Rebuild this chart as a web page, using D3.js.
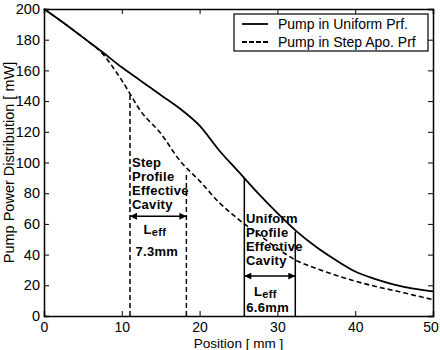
<!DOCTYPE html>
<html lang="en">
<head>
    <meta charset="UTF-8">
    <title>Pump Power Distribution</title>
    <script src="https://d3js.org/d3.v7.min.js"></script>
    <style>
        body {
            margin: 0;
            background: #fff;
        }
        svg text {
            font-family: "Liberation Sans", Arial, sans-serif;
            fill: #000;
        }
        .tick-label {
            font-size: 14.5px;
        }
        .note {
            font-size: 13px;
            font-weight: bold;
            letter-spacing: 0.3px;
        }
    </style>
</head>
<body>
    <div id="chart"></div>

    <script>
        // datos
        var positions = [0, 2.5, 5, 7.5, 10, 12.5, 15, 17.5, 20, 22.5, 25, 27.5, 30, 32.5, 35, 37.5, 40, 42.5, 45, 47.5, 50];
        var pumpUniform = [200, 191, 181.5, 172, 162, 153, 144, 135, 124, 108, 94, 80, 67, 55, 45, 36.5, 29, 24.2, 20.5, 17.8, 16];
        var pumpStep = [200, 191, 181.5, 171, 153.5, 133, 119, 101, 88, 74, 63, 53.5, 44, 36, 31, 26.6, 22.7, 19.4, 16.6, 13.6, 10.7];

        var xTicks = [0, 10, 20, 30, 40, 50];
        var yTicks = [0, 20, 40, 60, 80, 100, 120, 140, 160, 180, 200];

        var seriesNames = ["Pump in Uniform Prf.", "Pump in Step Apo. Prf"];

        // cavidades efectivas
        var stepCavity = { x0: 11.05, x1: 18.3, top0: 146, top1: 94, arrowY: 65, label: "7.3mm" };
        var uniformCavity = { x0: 25.75, x1: 32.3, top0: 90, top1: 55, arrowY: 26, label: "6.6mm" };
        var stepText = ["Step", "Profile", "Effective", "Cavity"];
        var uniformText = ["Uniform", "Profile", "Effective", "Cavity"];

        var width = 440;
        var height = 350;
        var margin = { top: 9, right: 7, bottom: 34, left: 44 };

        var svg = d3.select("#chart")
            .append("svg")
            .attr("width", width)
            .attr("height", height);

        var x = d3.scaleLinear()
            .domain([0, 50])
            .range([margin.left, width - margin.right]);

        var y = d3.scaleLinear()
            .domain([0, 200])
            .range([height - margin.bottom, margin.top]);

        // marcador de flecha
        var defs = svg.append("defs");
        defs.append("marker")
            .attr("id", "arrow")
            .attr("viewBox", "0 0 10 10")
            .attr("refX", 10)
            .attr("refY", 5)
            .attr("markerWidth", 8)
            .attr("markerHeight", 7)
            .attr("markerUnits", "userSpaceOnUse")
            .attr("orient", "auto-start-reverse")
            .append("path")
            .attr("d", "M0,0 L10,5 L0,10 z")
            .attr("fill", "#000");

        // ejes con marcas hacia adentro
        svg.append("g")
            .attr("transform", `translate(0,${y(0)})`)
            .call(d3.axisBottom(x).tickValues(xTicks).tickSize(-5).tickPadding(6))
            .call(g => g.selectAll("text").attr("class", "tick-label").attr("font-family", null).attr("font-size", null).style("font-size", "14px"))
            .call(g => g.selectAll("text").filter(d => d === 50).attr("dx", -2.5));

        svg.append("g")
            .attr("transform", `translate(0,${y(200)})`)
            .call(d3.axisTop(x).tickValues(xTicks).tickSize(-5).tickFormat(""));

        svg.append("g")
            .attr("transform", `translate(${x(0)},0)`)
            .call(d3.axisLeft(y).tickValues(yTicks).tickSize(-5).tickPadding(4))
            .call(g => g.selectAll("text").attr("class", "tick-label").attr("font-family", null).attr("font-size", null));

        svg.append("g")
            .attr("transform", `translate(${x(50)},0)`)
            .call(d3.axisRight(y).tickValues(yTicks).tickSize(-5).tickFormat(""));

        svg.selectAll(".domain").attr("stroke", "#000").attr("stroke-width", 1.5);
        svg.selectAll(".tick line").attr("stroke", "#000").attr("stroke-width", 1);

        // etiquetas de ejes
        svg.append("text")
            .attr("x", (x(0) + x(50)) / 2)
            .attr("y", 347.5)
            .attr("text-anchor", "middle")
            .style("font-size", "13.5px")
            .text("Position [ mm ]");

        svg.append("text")
            .attr("transform", `translate(9,${(y(0) + y(200)) / 2}) rotate(-90)`)
            .attr("text-anchor", "middle")
            .attr("dominant-baseline", "central")
            .style("font-size", "14.5px")
            .text("Pump Power Distribution [ mW]");

        // curvas
        var line = d3.line()
            .x(function(d) { return x(d[0]); })
            .y(function(d) { return y(d[1]); })
            .curve(d3.curveMonotoneX);

        svg.append("path")
            .datum(positions.map(function(p, i) { return [p, pumpUniform[i]]; }))
            .attr("fill", "none")
            .attr("stroke", "#000")
            .attr("stroke-width", 1.8)
            .attr("d", line);

        svg.append("path")
            .datum(positions.map(function(p, i) { return [p, pumpStep[i]]; }))
            .attr("fill", "none")
            .attr("stroke", "#000")
            .attr("stroke-width", 1.6)
            .attr("stroke-dasharray", "5,3")
            .attr("d", line);

        // lineas verticales y flechas de cada cavidad
        function drawCavity(c, dashed, textLines, textX, textY0, lX, lY, mmX, mmY) {
            [[c.x0, c.top0], [c.x1, c.top1]].forEach(function(v) {
                svg.append("line")
                    .attr("x1", x(v[0])).attr("x2", x(v[0]))
                    .attr("y1", y(0)).attr("y2", y(v[1]))
                    .attr("stroke", "#000")
                    .attr("stroke-width", 1.5)
                    .attr("stroke-dasharray", dashed ? "5,3" : null);
            });

            svg.append("line")
                .attr("x1", x(c.x0)).attr("x2", x(c.x1))
                .attr("y1", y(c.arrowY)).attr("y2", y(c.arrowY))
                .attr("stroke", "#000")
                .attr("stroke-width", 1.5)
                .attr("marker-start", "url(#arrow)")
                .attr("marker-end", "url(#arrow)");

            textLines.forEach(function(t, i) {
                svg.append("text")
                    .attr("class", "note")
                    .attr("x", x(textX))
                    .attr("y", y(textY0) + i * 14)
                    .attr("dominant-baseline", "central")
                    .text(t);
            });

            var leff = svg.append("text")
                .attr("class", "note")
                .attr("x", x(lX))
                .attr("y", y(lY))
                .attr("dominant-baseline", "central");
            leff.append("tspan").text("L");
            leff.append("tspan").attr("dy", 3).style("font-size", "11px").text("eff");

            svg.append("text")
                .attr("class", "note")
                .attr("x", x(mmX))
                .attr("y", y(mmY))
                .attr("text-anchor", "middle")
                .attr("dominant-baseline", "central")
                .text(c.label);
        }

        drawCavity(stepCavity, true, stepText, 11.3, 100, 12.8, 57, 14.5, 42.2);
        drawCavity(uniformCavity, false, uniformText, 25.95, 63.3, 27.0, 16.3, 28.75, 5.6);

        // leyenda
        var legend = svg.append("g").attr("transform", "translate(234,14)");
        legend.append("rect")
            .attr("width", 194)
            .attr("height", 37)
            .attr("fill", "#fff")
            .attr("stroke", "#000")
            .attr("stroke-width", 1.2);

        seriesNames.forEach(function(name, i) {
            legend.append("line")
                .attr("x1", 8).attr("x2", 34)
                .attr("y1", 10 + i * 18).attr("y2", 10 + i * 18)
                .attr("stroke", "#000")
                .attr("stroke-width", 1.8)
                .attr("stroke-dasharray", i === 1 ? "5,2" : null);
            legend.append("text")
                .attr("x", 44)
                .attr("y", 10 + i * 18)
                .attr("dominant-baseline", "central")
                .style("font-size", "14px")
                .text(name);
        });
    </script>
</body>
</html>
